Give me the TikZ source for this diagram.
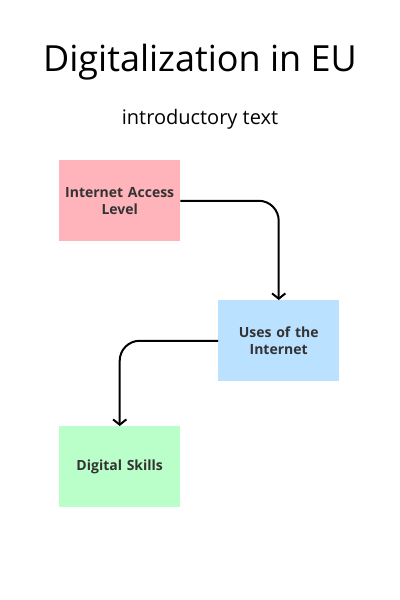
\documentclass[tikz,border=0pt]{standalone}
\usepackage{fontspec}
\setmainfont{Open Sans}
\usetikzlibrary{arrows.meta,positioning}
\definecolor{euInk}{HTML}{333333}
\definecolor{euPink}{HTML}{FFB3BA}
\definecolor{euBlue}{HTML}{BAE1FF}
\definecolor{euGreen}{HTML}{BAFFC9}
\tikzset{
  eubox/.style={fill=#1, draw=none, minimum width=90pt, minimum height=60.75pt,
                align=center, text=euInk, font=\fontsize{10.5pt}{12.5pt}\selectfont\bfseries,
                text width=84pt, anchor=north west},
  eutitle/.style={font=\fontsize{27pt}{31pt}\selectfont, text=black},
  eusub/.style={font=\fontsize{15pt}{18pt}\selectfont, text=black},
  euarrow/.style={-{Straight Barb[length=4pt,width=10pt,line width=1.5pt]}, line width=1.5pt,
                  draw=black, rounded corners=15pt}
}
\begin{document}
\begin{tikzpicture}[x=0.75pt, y=-0.75pt]
\useasboundingbox[fill=white] (0,0) rectangle (400,600);

\node[eutitle] (title) at (200,62) {Digitalization in EU};
\node[eusub] (intro) at (200,119) {introductory text};

% the three topic boxes
\node[eubox=euPink] (access) at (59,160) {Internet Access\\Level};
\node[eubox=euBlue] (uses) at (218,300) {Uses of the\\Internet};
\node[eubox=euGreen] (skills) at (59,426) {Digital Skills};

\draw[euarrow] (access.east) -| (uses.north);
\draw[euarrow] (uses.west) -| (skills.north);

\end{tikzpicture}
\end{document}
